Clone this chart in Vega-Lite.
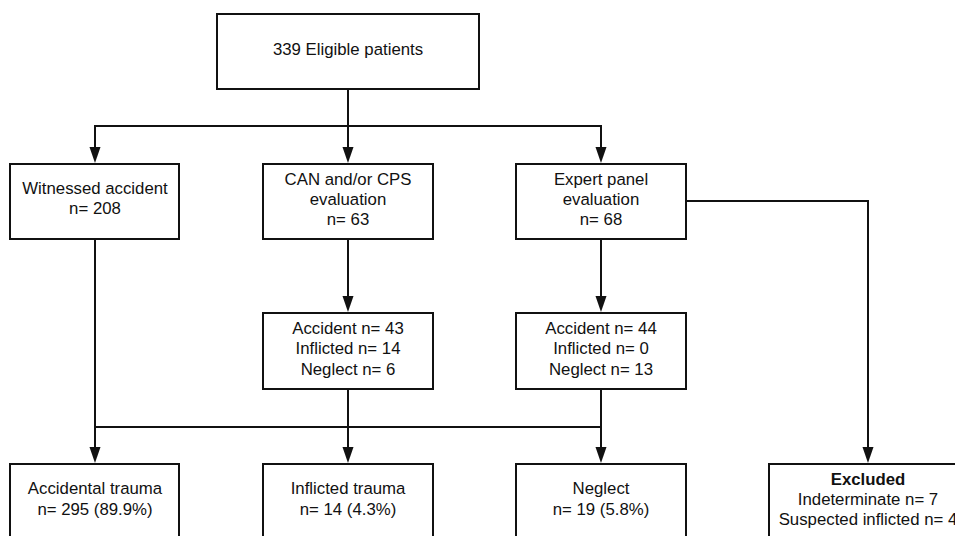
{
  "$schema": "https://vega.github.io/schema/vega-lite/v6.json",
  "width": 955,
  "height": 536,
  "padding": 0,
  "autosize": {"type": "none"},
  "background": "white",
  "config": {"view": {"stroke": null}},
  "datasets": {
    "boxes": [
      {"x": 217, "x2": 479, "y": 14, "y2": 89},
      {"x": 10, "x2": 179, "y": 164, "y2": 239},
      {"x": 263, "x2": 433, "y": 164, "y2": 239},
      {"x": 516, "x2": 686, "y": 164, "y2": 239},
      {"x": 263, "x2": 433, "y": 313, "y2": 389},
      {"x": 516, "x2": 686, "y": 313, "y2": 389},
      {"x": 10, "x2": 179, "y": 464, "y2": 580},
      {"x": 263, "x2": 433, "y": 464, "y2": 580},
      {"x": 516, "x2": 686, "y": 464, "y2": 580},
      {"x": 769, "x2": 1000, "y": 464, "y2": 580}
    ],
    "lines": [
      {"x": 348, "x2": 348, "y": 89, "y2": 155},
      {"x": 95, "x2": 601, "y": 126, "y2": 126},
      {"x": 95, "x2": 95, "y": 126, "y2": 155},
      {"x": 601, "x2": 601, "y": 126, "y2": 155},
      {"x": 686, "x2": 868, "y": 201, "y2": 201},
      {"x": 868, "x2": 868, "y": 201, "y2": 455},
      {"x": 95, "x2": 95, "y": 239, "y2": 455},
      {"x": 348, "x2": 348, "y": 239, "y2": 305},
      {"x": 601, "x2": 601, "y": 239, "y2": 305},
      {"x": 95, "x2": 601, "y": 427, "y2": 427},
      {"x": 348, "x2": 348, "y": 389, "y2": 455},
      {"x": 601, "x2": 601, "y": 389, "y2": 455}
    ],
    "arrows": [
      {"x": 95, "y": 155},
      {"x": 348, "y": 155},
      {"x": 601, "y": 155},
      {"x": 348, "y": 304},
      {"x": 601, "y": 304},
      {"x": 95, "y": 455},
      {"x": 348, "y": 455},
      {"x": 601, "y": 455},
      {"x": 868, "y": 455}
    ],
    "labels": [
      {"x": 348, "y": 50, "text": "339 Eligible patients", "bold": false},
      {"x": 95, "y": 189, "text": "Witnessed accident", "bold": false},
      {"x": 95, "y": 209, "text": "n= 208", "bold": false},
      {"x": 348, "y": 180, "text": "CAN and/or CPS", "bold": false},
      {"x": 348, "y": 200, "text": "evaluation", "bold": false},
      {"x": 348, "y": 220, "text": "n= 63", "bold": false},
      {"x": 601, "y": 180, "text": "Expert panel", "bold": false},
      {"x": 601, "y": 200, "text": "evaluation", "bold": false},
      {"x": 601, "y": 220, "text": "n= 68", "bold": false},
      {"x": 348, "y": 329, "text": "Accident n= 43", "bold": false},
      {"x": 348, "y": 349, "text": "Inflicted n= 14", "bold": false},
      {"x": 348, "y": 370, "text": "Neglect n= 6", "bold": false},
      {"x": 601, "y": 329, "text": "Accident n= 44", "bold": false},
      {"x": 601, "y": 349, "text": "Inflicted n= 0", "bold": false},
      {"x": 601, "y": 370, "text": "Neglect n= 13", "bold": false},
      {"x": 95, "y": 489, "text": "Accidental trauma", "bold": false},
      {"x": 95, "y": 510, "text": "n= 295 (89.9%)", "bold": false},
      {"x": 348, "y": 489, "text": "Inflicted trauma", "bold": false},
      {"x": 348, "y": 510, "text": "n= 14 (4.3%)", "bold": false},
      {"x": 601, "y": 489, "text": "Neglect", "bold": false},
      {"x": 601, "y": 510, "text": "n= 19 (5.8%)", "bold": false},
      {"x": 868, "y": 480, "text": "Excluded", "bold": true},
      {"x": 868, "y": 500, "text": "Indeterminate n= 7", "bold": false},
      {"x": 868, "y": 520, "text": "Suspected inflicted n= 4", "bold": false}
    ]
  },
  "layer": [
    {
      "data": {"name": "boxes"},
      "mark": {"type": "rect", "fill": "white", "stroke": "#111111", "strokeWidth": 2, "clip": true},
      "encoding": {
        "x": {"field": "x", "type": "quantitative", "scale": {"domain": [0, 955], "nice": false, "zero": false}, "axis": null},
        "x2": {"field": "x2"},
        "y": {"field": "y", "type": "quantitative", "scale": {"domain": [0, 536], "nice": false, "zero": false, "reverse": true}, "axis": null},
        "y2": {"field": "y2"}
      }
    },
    {
      "data": {"name": "lines"},
      "mark": {"type": "rule", "stroke": "#111111", "strokeWidth": 2, "strokeCap": "square"},
      "encoding": {
        "x": {"field": "x", "type": "quantitative", "axis": null},
        "x2": {"field": "x2"},
        "y": {"field": "y", "type": "quantitative", "axis": null},
        "y2": {"field": "y2"}
      }
    },
    {
      "data": {"name": "arrows"},
      "mark": {"type": "point", "shape": "M-0.69,-1L0.69,-1L0,1Z", "size": 256, "filled": true, "fill": "#111111", "stroke": null, "opacity": 1},
      "encoding": {
        "x": {"field": "x", "type": "quantitative", "axis": null},
        "y": {"field": "y", "type": "quantitative", "axis": null}
      }
    },
    {
      "data": {"name": "labels"},
      "transform": [{"filter": "!datum.bold"}],
      "mark": {"type": "text", "font": "Liberation Sans", "fontSize": 16.8, "color": "#111111", "align": "center", "baseline": "middle"},
      "encoding": {
        "x": {"field": "x", "type": "quantitative", "axis": null},
        "y": {"field": "y", "type": "quantitative", "axis": null},
        "text": {"field": "text"}
      }
    },
    {
      "data": {"name": "labels"},
      "transform": [{"filter": "datum.bold"}],
      "mark": {"type": "text", "font": "Liberation Sans", "fontSize": 16.8, "fontWeight": "bold", "color": "#111111", "align": "center", "baseline": "middle"},
      "encoding": {
        "x": {"field": "x", "type": "quantitative", "axis": null},
        "y": {"field": "y", "type": "quantitative", "axis": null},
        "text": {"field": "text"}
      }
    }
  ]
}
